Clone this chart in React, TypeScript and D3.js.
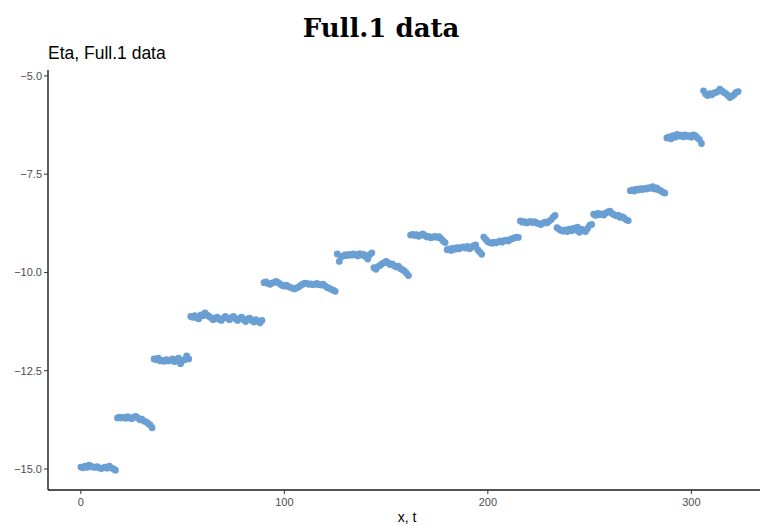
import React from "react";
import * as d3 from "d3";

// Eta estimates, one block of 18 consecutive time steps each
const block01 = [-14.95, -14.97, -14.93, -14.96, -14.9, -14.93, -14.95, -14.96, -14.94, -14.97, -14.99, -14.97, -14.95, -14.98, -14.93, -14.97, -15.0, -15.03];
const block02 = [-13.7, -13.68, -13.7, -13.69, -13.71, -13.67, -13.7, -13.72, -13.68, -13.66, -13.7, -13.75, -13.73, -13.78, -13.8, -13.84, -13.88, -13.95];
const block03 = [-12.2, -12.22, -12.18, -12.25, -12.24, -12.26, -12.22, -12.25, -12.23, -12.2, -12.27, -12.22, -12.18, -12.32, -12.24, -12.22, -12.12, -12.2];
const block04 = [-11.12, -11.14, -11.1, -11.16, -11.18, -11.08, -11.1, -11.03, -11.08, -11.12, -11.15, -11.2, -11.17, -11.14, -11.19, -11.22, -11.16, -11.12];
const block05 = [-11.16, -11.2, -11.15, -11.12, -11.18, -11.22, -11.17, -11.14, -11.2, -11.25, -11.18, -11.16, -11.22, -11.26, -11.2, -11.24, -11.28, -11.22];
const block06 = [-10.26, -10.24, -10.28, -10.3, -10.27, -10.25, -10.23, -10.26, -10.3, -10.33, -10.35, -10.32, -10.36, -10.38, -10.4, -10.42, -10.39, -10.37];
const block07 = [-10.33, -10.3, -10.27, -10.28, -10.3, -10.29, -10.31, -10.3, -10.28, -10.31, -10.32, -10.3, -10.34, -10.38, -10.4, -10.43, -10.45, -10.48];
const block08 = [-9.53, -9.72, -9.6, -9.58, -9.55, -9.57, -9.54, -9.56, -9.53, -9.55, -9.58, -9.52, -9.56, -9.54, -9.6, -9.66, -9.55, -9.5];
const block09 = [-9.88, -9.92, -9.85, -9.82, -9.78, -9.75, -9.72, -9.76, -9.8, -9.78, -9.83, -9.86, -9.84, -9.9, -9.93, -9.96, -10.02, -10.08];
const block10 = [-9.05, -9.03, -9.06, -9.04, -9.08, -9.05, -9.02, -9.06, -9.1, -9.08, -9.12, -9.1, -9.08, -9.11, -9.09, -9.14, -9.2, -9.24];
const block11 = [-9.42, -9.4, -9.44, -9.38, -9.41, -9.37, -9.4, -9.36, -9.35, -9.38, -9.34, -9.4, -9.36, -9.32, -9.3, -9.42, -9.48, -9.54];
const block12 = [-9.1, -9.16, -9.22, -9.24, -9.26, -9.23, -9.25, -9.22, -9.2, -9.23, -9.19, -9.18, -9.2, -9.16, -9.14, -9.12, -9.1, -9.11];
const block13 = [-8.69, -8.72, -8.71, -8.74, -8.72, -8.7, -8.73, -8.71, -8.74, -8.76, -8.78, -8.75, -8.72, -8.74, -8.7, -8.66, -8.6, -8.55];
const block14 = [-8.86, -8.9, -8.93, -8.95, -8.92, -8.96, -8.9, -8.94, -8.88, -8.92, -8.85, -8.98, -8.9, -8.94, -8.96, -8.88, -8.8, -8.78];
const block15 = [-8.52, -8.55, -8.5, -8.53, -8.51, -8.54, -8.49, -8.46, -8.44, -8.5, -8.53, -8.56, -8.54, -8.6, -8.58, -8.62, -8.66, -8.68];
const block16 = [-7.92, -7.9, -7.93, -7.88, -7.9, -7.87, -7.89, -7.86, -7.88, -7.84, -7.86, -7.82, -7.88, -7.85, -7.9, -7.92, -7.96, -7.98];
const block17 = [-6.58, -6.55, -6.6, -6.52, -6.56, -6.49, -6.53, -6.51, -6.55, -6.5, -6.54, -6.52, -6.56, -6.5, -6.52, -6.58, -6.62, -6.72];
const block18 = [-5.38, -5.46, -5.5, -5.45, -5.48, -5.44, -5.42, -5.4, -5.34, -5.38, -5.42, -5.45, -5.5, -5.55, -5.52, -5.48, -5.42, -5.4];

const etaValues = [
  ...block01, ...block02, ...block03, ...block04, ...block05, ...block06,
  ...block07, ...block08, ...block09, ...block10, ...block11, ...block12,
  ...block13, ...block14, ...block15, ...block16, ...block17, ...block18,
];

const xTicks = [0, 100, 200, 300];
const yTicks = [-5.0, -7.5, -10.0, -12.5, -15.0];

const titleText = "Full.1 data";
const yTitle = "Eta, Full.1 data";
const xTitle = "x, t";

const W = 760;
const H = 525;
const panel = { left: 48, top: 70, right: 771, bottom: 490 };

export default function App() {
  const points = etaValues.map((v, i) => ({ t: i, v }));

  const tExt = d3.extent(points, (d) => d.t) as [number, number];
  const tPad = (tExt[1] - tExt[0]) * 0.05;
  const x = d3
    .scaleLinear()
    .domain([tExt[0] - tPad, tExt[1] + tPad])
    .range([panel.left, panel.right]);

  const y = d3
    .scaleLinear()
    .domain([-15.534, -4.85])
    .range([panel.bottom, panel.top]);

  const tickFmt = d3.format(".1f");
  const minus = (s: string) => s.replace("-", "\u2212");

  return (
    <svg
      width={W}
      height={H}
      style={{ position: "absolute", left: 0, top: 0, background: "#fff" }}
    >
      <text
        x={381}
        y={37}
        textAnchor="middle"
        fontFamily="DejaVu Serif"
        fontWeight="bold"
        fontSize={26}
        fill="#000"
      >
        {titleText}
      </text>
      <text
        x={48}
        y={59}
        fontFamily="Liberation Sans, Arial, sans-serif"
        fontSize={17.5}
        fill="#000"
      >
        {yTitle}
      </text>

      {/* points */}
      <g>
        {points.map((d) => (
          <circle
            key={d.t}
            cx={x(d.t)}
            cy={y(d.v)}
            r={3.4}
            fill="#6a9fd4"
          />
        ))}
      </g>

      {/* y axis */}
      <line
        x1={panel.left}
        x2={panel.left}
        y1={panel.top}
        y2={panel.bottom}
        stroke="#1a1a1a"
        strokeWidth={1.4}
      />
      {yTicks.map((t) => (
        <g key={t}>
          <line
            x1={panel.left - 4}
            x2={panel.left}
            y1={y(t)}
            y2={y(t)}
            stroke="#333"
            strokeWidth={1}
          />
          <text
            x={panel.left - 6}
            y={y(t)}
            dy="0.35em"
            textAnchor="end"
            fontFamily="Liberation Sans, Arial, sans-serif"
            fontSize={11}
            fill="#4d4d4d"
          >
            {minus(tickFmt(t))}
          </text>
        </g>
      ))}

      {/* x axis */}
      <line
        x1={panel.left}
        x2={panel.right}
        y1={panel.bottom}
        y2={panel.bottom}
        stroke="#1a1a1a"
        strokeWidth={1.4}
      />
      {xTicks.map((t) => (
        <g key={t}>
          <line
            x1={x(t)}
            x2={x(t)}
            y1={panel.bottom}
            y2={panel.bottom + 4}
            stroke="#333"
            strokeWidth={1}
          />
          <text
            x={x(t)}
            y={panel.bottom + 16}
            textAnchor="middle"
            fontFamily="Liberation Sans, Arial, sans-serif"
            fontSize={11}
            fill="#4d4d4d"
          >
            {t}
          </text>
        </g>
      ))}
      <text
        x={407}
        y={522}
        textAnchor="middle"
        fontFamily="Liberation Sans, Arial, sans-serif"
        fontSize={14}
        fill="#000"
      >
        {xTitle}
      </text>
    </svg>
  );
}
